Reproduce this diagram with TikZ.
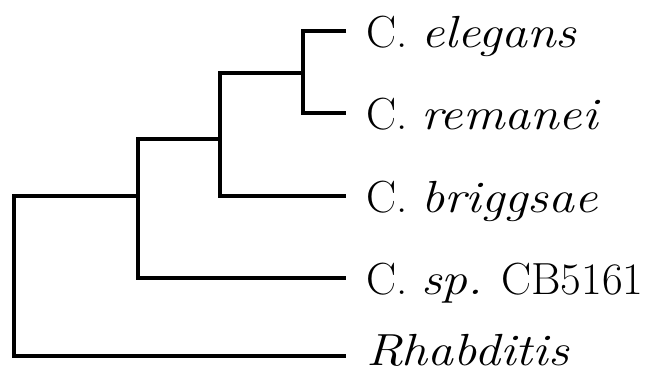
\documentclass[tikz,border=0pt]{standalone}
\usepackage{fontspec}
\setmainfont{Latin Modern Roman}[ItalicFeatures={FakeStretch=1.15}]
\begin{document}
\begin{tikzpicture}[x=1pt, y=-1pt,
  branch/.style={line width=4pt, line join=miter, line cap=butt},
  taxon/.style={anchor=base west, inner sep=0pt, font=\fontsize{45}{50}\selectfont}]
  \useasboundingbox (0,0) rectangle (647,373);

  % leaf tips
  \coordinate (el) at (346,31);
  \coordinate (re) at (346,113);
  \coordinate (br) at (346,196);
  \coordinate (sp) at (346,278);
  \coordinate (rh) at (346,356);

  % internal nodes (where the parent branch joins)
  \coordinate (n4) at (303,73);
  \coordinate (n3) at (220,139);
  \coordinate (n2) at (138,196);
  \coordinate (n1) at (14,280);

  % branches
  \draw[branch] (el) -| (n4) |- (re);
  \draw[branch] (n4) -| (n3) |- (br);
  \draw[branch] (n3) -| (n2) |- (sp);
  \draw[branch] (n2) -| (n1) |- (rh);

  % taxon labels
  \node[taxon] (tel) at (366,47)  {C. \textit{elegans}};
  \node[taxon] (tre) at (366,129) {C. \textit{remanei}};
  \node[taxon] (tbr) at (366,212) {C. \textit{briggsae}};
  \node[taxon] (tsp) at (366,294) {C. \textit{sp.} CB5161};
  \node[taxon] (trh) at (366,365) {\textit{Rhabditis}};
\end{tikzpicture}
\end{document}
